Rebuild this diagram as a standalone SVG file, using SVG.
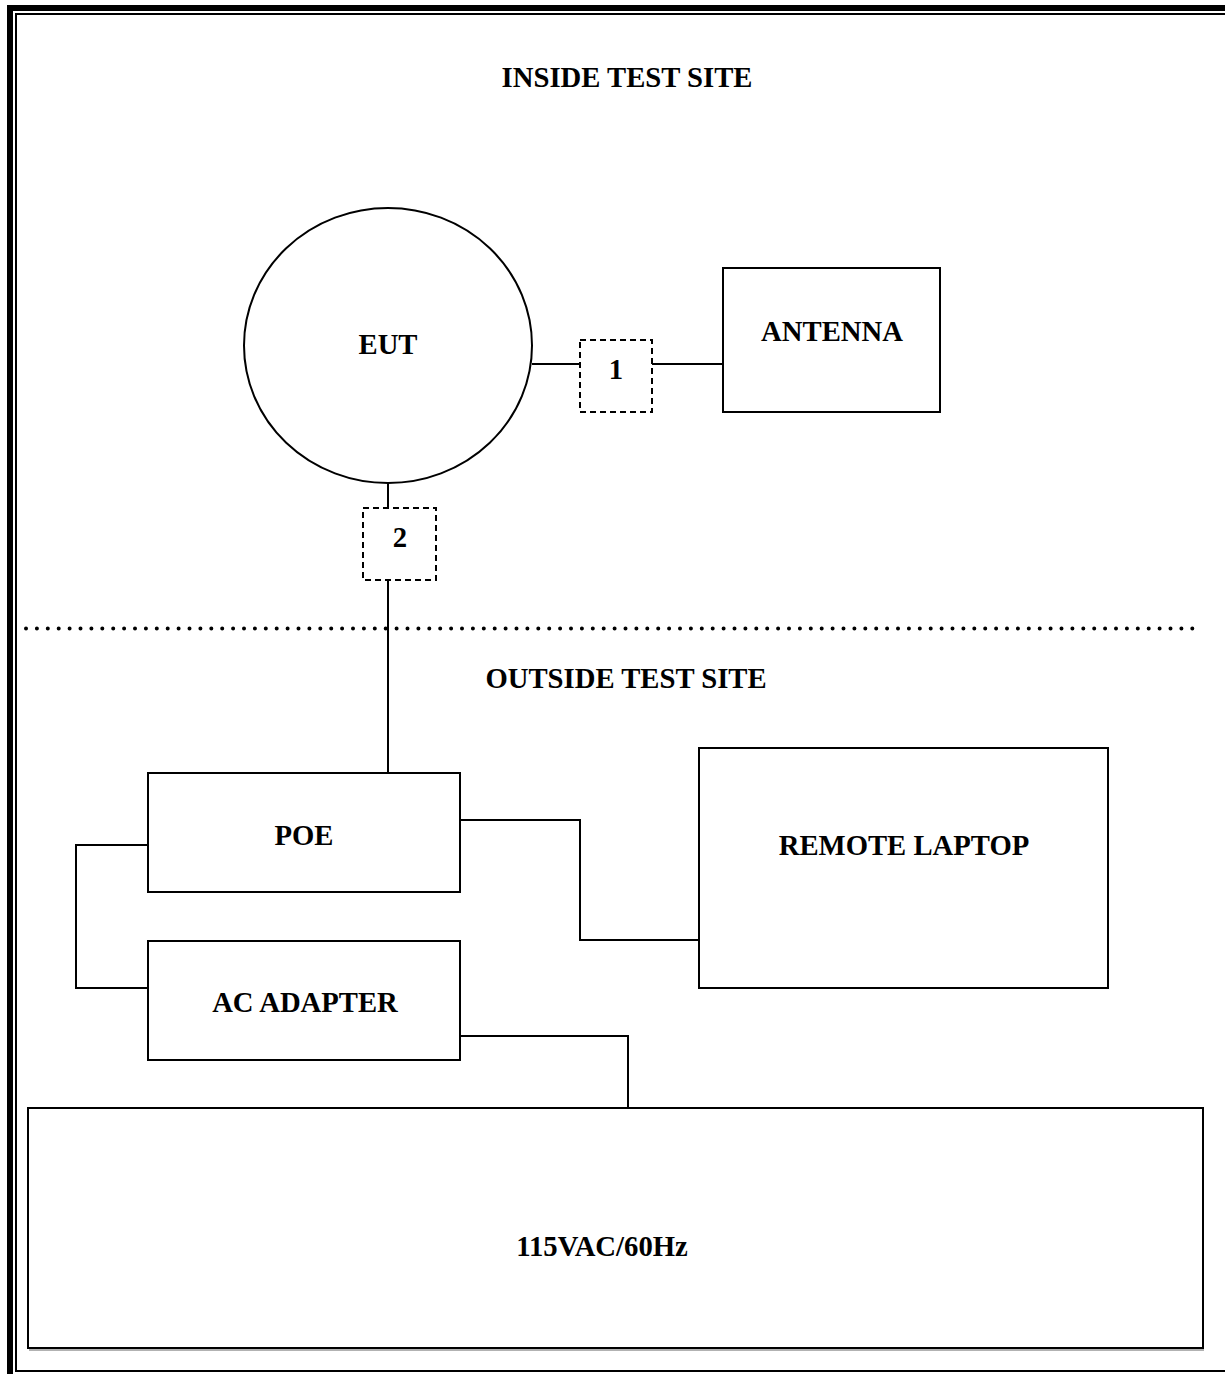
<svg xmlns="http://www.w3.org/2000/svg" width="1225" height="1374" viewBox="0 0 1225 1374">
<style>
.lbl{font-family:"Liberation Serif","Times New Roman",serif;font-weight:bold;font-size:28.7px;fill:#000;text-anchor:middle}
.box{fill:#fff;stroke:#000;stroke-width:2}
.dash{fill:#fff;stroke:#000;stroke-width:2;stroke-dasharray:6 4}
.wire{fill:none;stroke:#000;stroke-width:2}
</style>
<rect x="0" y="0" width="1225" height="1374" fill="#fff"/>
<g id="frame">
<rect x="10" y="8" width="1240" height="1400" fill="none" stroke="#000" stroke-width="6"/>
<rect x="16" y="14" width="1225" height="1357" fill="none" stroke="#000" stroke-width="2"/>
</g>
<g id="labels">
<text class="lbl" x="627" y="87">INSIDE TEST SITE</text>
<text class="lbl" x="626" y="688">OUTSIDE TEST SITE</text>
</g>
<g id="boundary">
<line x1="26" y1="628.5" x2="1198" y2="628.5" stroke="#000" stroke-width="4" stroke-linecap="round" stroke-dasharray="0 10.9"/>
</g>
<g id="connectors">
<line class="wire" x1="532" y1="364" x2="580" y2="364"/>
<line class="wire" x1="652" y1="364" x2="723" y2="364"/>
<line class="wire" x1="388" y1="483" x2="388" y2="508"/>
<line class="wire" x1="388" y1="580" x2="388" y2="773"/>
<polyline class="wire" points="148,845 76,845 76,988 148,988"/>
<polyline class="wire" points="460,820 580,820 580,940 699,940"/>
<polyline class="wire" points="460,1036 628,1036 628,1108"/>
</g>
<g id="eut">
<ellipse class="box" cx="388" cy="345.5" rx="144" ry="137.5"/>
<text class="lbl" x="388" y="354">EUT</text>
</g>
<g id="cable1">
<rect class="dash" x="580" y="340" width="72" height="72"/>
<text class="lbl" x="616" y="379">1</text>
</g>
<g id="antenna">
<rect class="box" x="723" y="268" width="217" height="144"/>
<text class="lbl" x="832" y="341">ANTENNA</text>
</g>
<g id="cable2">
<rect class="dash" x="363" y="508" width="73" height="72"/>
<text class="lbl" x="400" y="547">2</text>
</g>
<g id="poe">
<rect class="box" x="148" y="773" width="312" height="119"/>
<text class="lbl" x="304" y="845">POE</text>
</g>
<g id="acadapter">
<rect class="box" x="148" y="941" width="312" height="119"/>
<text class="lbl" x="305" y="1012">AC ADAPTER</text>
</g>
<g id="laptop">
<rect class="box" x="699" y="748" width="409" height="240"/>
<text class="lbl" x="904" y="855">REMOTE LAPTOP</text>
</g>
<g id="power">
<line x1="29" y1="1350" x2="1204" y2="1350" stroke="#999" stroke-width="1.5"/>
<rect class="box" x="28" y="1108" width="1175" height="240"/>
<text class="lbl" x="602" y="1256">115VAC/60Hz</text>
</g>
</svg>
